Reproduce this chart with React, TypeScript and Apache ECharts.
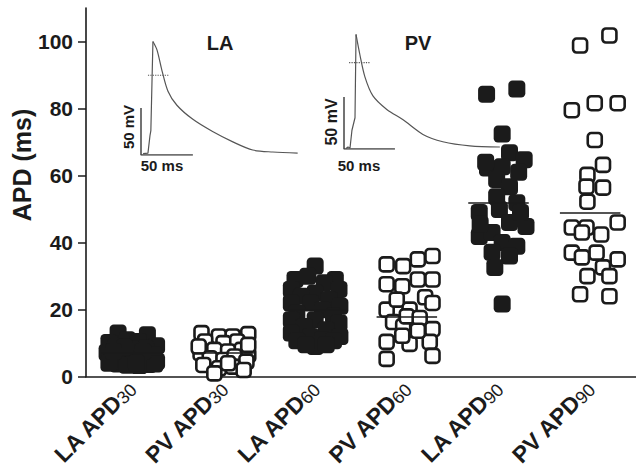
import React, { useEffect, useRef } from 'react';
import * as echarts from 'echarts';

const FONT = '"Liberation Sans", Arial, Helvetica, sans-serif';
const INK = '#1b1b1b';

// Category names (subscript digits split off in the label formatter)
const categories = ['LA APD30', 'PV APD30', 'LA APD60', 'PV APD60', 'LA APD90', 'PV APD90'];
const yTickValues = [0, 20, 40, 60, 80, 100];
const yMinorTickValues = [10, 30, 50, 70, 90, 110];

// Each point: [horizontal jitter within the category, APD in ms]
const la30 = [
  [-0.15, 13], [0.17, 12.5], [-0.25, 10.2], [0.27, 9.2], [-0.05, 11], [0.07, 10.5],
  [-0.18, 9], [0.15, 8.5], [-0.27, 7.2], [0.0, 8.2], [0.24, 6.5], [-0.1, 6.5],
  [0.1, 6], [-0.22, 5], [0.27, 4.5], [0.02, 5], [-0.15, 3.8], [0.18, 3.6],
  [-0.05, 3.4], [0.08, 3.3], [-0.25, 4], [0.25, 3.8], [-0.08, 8.8], [0.12, 7.5],
  [-0.2, 7.5], [0.05, 4],
];
const pv30 = [
  [-0.24, 13], [-0.05, 12], [0.1, 12], [0.27, 12.7], [-0.2, 10.5], [0.0, 10],
  [0.15, 10.5], [-0.25, 7], [-0.1, 8], [0.05, 7.5], [0.2, 8], [0.27, 6.5],
  [-0.15, 5.5], [0.0, 5], [0.12, 6], [0.25, 4.5], [-0.22, 3.5], [-0.05, 2.5],
  [0.1, 3], [0.22, 2], [-0.1, 1], [0.05, 4], [0.27, 9.5], [-0.27, 9],
];
const la60 = [
  [0.0, 33], [-0.22, 29], [0.22, 29], [-0.08, 30], [0.1, 28], [-0.26, 26],
  [0.26, 26], [0.0, 25], [-0.15, 24], [0.15, 23], [-0.26, 22], [0.27, 21],
  [-0.05, 22], [0.08, 20], [-0.2, 19], [0.2, 18], [-0.26, 17], [0.26, 16],
  [0.0, 17], [-0.12, 15], [0.12, 14], [-0.26, 13], [0.27, 12], [-0.05, 12],
  [0.08, 11], [-0.2, 10.7], [0.2, 10.7], [0.0, 9], [-0.1, 9.5], [0.12, 9.5],
];
const pv60 = [
  [-0.22, 33.5], [-0.04, 33], [0.12, 35], [0.28, 36], [-0.22, 27.6], [-0.05, 27],
  [0.12, 29], [0.28, 29], [0.2, 23.7], [0.28, 22], [-0.22, 20], [0.03, 20],
  [-0.15, 16.3], [-0.04, 15], [0.0, 18], [0.28, 14.2], [-0.22, 10.4], [0.03, 9.8],
  [0.25, 10.4], [0.28, 6.2], [-0.22, 5.3], [-0.11, 23], [0.14, 17.5], [0.12, 13.7],
  [-0.05, 12.2],
];
const la90 = [
  [-0.13, 84.3], [0.2, 85.8], [0.04, 72.4], [0.12, 66.8], [0.28, 64.7], [-0.12, 62.3],
  [0.04, 62.6], [-0.02, 58.8], [0.12, 56.7], [-0.02, 53.7], [0.2, 51.9], [-0.21, 49],
  [0.01, 49.9], [0.3, 44.8], [0.12, 46], [-0.21, 41.8], [-0.07, 43], [0.04, 40],
  [0.2, 38.9], [-0.07, 37.1], [0.12, 36], [-0.04, 32.6], [0.04, 21.7],
  [-0.14, 64], [0.22, 61], [-0.2, 45.5], [0.24, 49],
];
const pv90 = [
  [-0.11, 98.8], [0.21, 101.8], [-0.2, 79.5], [0.05, 81.6], [0.3, 81.6], [0.05, 70.6],
  [0.14, 63.2], [-0.03, 60.2], [-0.04, 56.7], [0.14, 56.4], [-0.03, 52.2], [-0.2, 44.5],
  [0.3, 46], [-0.04, 44.5], [-0.09, 43], [0.12, 42.4], [-0.2, 37], [-0.09, 35.6],
  [0.07, 37], [0.3, 35], [0.14, 32.6], [-0.03, 30], [0.21, 30], [-0.11, 24.6],
  [0.21, 24],
];
const groups = [la30, pv30, la60, pv60, la90, pv90];
const groupFilled = [true, false, true, false, true, false];
const groupMeans = [7, 7, 20, 18, 52, 49];
const meanHalfWidth = 0.33;

// Inset action-potential traces: [time ms, mV above rest]
const laUpstroke = [[2, 1.5], [6.7, 2], [8.7, 21], [9.5, 26], [11.5, 121]];
const laDecay = [
  [11.5, 121], [15.4, 112], [20.2, 90], [26, 68], [34.6, 53], [50, 38], [69, 25],
  [88.5, 14], [107.7, 5.3], [127, 3.2], [151, 2.1],
];
const laApdMarker = [[6.7, 85], [27, 85]];
const pvUpstroke = [[2, 0.5], [3.9, 2], [5.9, 1], [7.8, 18], [10.8, 30], [11.8, 110]];
const pvDecay = [
  [11.8, 110], [15.7, 90], [20.6, 69], [28.4, 51], [42, 38], [58, 28], [77.5, 14],
  [97, 7], [123.5, 3], [153, 1.9],
];
const pvApdMarker = [[5, 83], [25.5, 83]];
const scaleBar = [[0, 50], [0, 0], [50, 0]]; // 50 mV x 50 ms

export default function App() {
  const ref = useRef<HTMLDivElement>(null);

  useEffect(() => {
    if (!ref.current) return;
    const chart = echarts.init(ref.current, null, { renderer: 'svg' });

    const scatterSeries = groups.map((g, i) => {
      const c = i + 0.5;
      const filled = groupFilled[i];
      return {
        type: 'scatter',
        xAxisIndex: 1,
        yAxisIndex: 0,
        symbol: 'roundRect',
        symbolSize: filled ? 17 : 14,
        itemStyle: filled
          ? { color: INK, opacity: 1 }
          : { color: '#ffffff', borderColor: INK, borderWidth: 2.6, opacity: 1 },
        data: g.map(([j, v]) => [c + j, v]),
        markLine: {
          silent: true,
          symbol: 'none',
          label: { show: false },
          lineStyle: { color: INK, width: 1.6, type: 'solid' },
          data: [[{ coord: [c - meanHalfWidth, groupMeans[i]] }, { coord: [c + meanHalfWidth, groupMeans[i]] }]],
        },
        z: 3,
      };
    });

    const traceLine = (data: number[][], xi: number, yi: number, extra: any = {}) => ({
      type: 'line',
      xAxisIndex: xi,
      yAxisIndex: yi,
      data,
      symbol: 'none',
      silent: true,
      lineStyle: { color: '#555', width: 1.2 },
      z: 2,
      ...extra,
    });

    const option: any = {
      animation: false,
      grid: [
        { left: 86, right: 0, top: 8, bottom: 92 },
        { left: 141, top: 33, width: 166, height: 122 },
        { left: 344, top: 24, width: 163, height: 125 },
      ],
      xAxis: [
        {
          type: 'category',
          gridIndex: 0,
          data: categories,
          boundaryGap: true,
          axisLine: { lineStyle: { color: INK, width: 1.6 } },
          axisTick: { alignWithLabel: true, length: 6, lineStyle: { color: INK, width: 1.5 } },
          splitLine: { show: false },
          axisLabel: {
            interval: 0,
            rotate: 45,
            margin: 8,
            formatter: (v: string) => {
              const m = v.match(/^(.*?)(\d+)$/);
              return m ? `{b|${m[1]}}{s|${m[2]}}` : `{b|${v}}`;
            },
            rich: {
              b: { fontFamily: FONT, fontWeight: 'bold', fontSize: 23, color: INK },
              s: { fontFamily: FONT, fontWeight: 'normal', fontSize: 18, color: INK, padding: [6, 0, 0, 0] },
            },
          },
        },
        { type: 'value', gridIndex: 0, min: 0, max: 6, show: false },
        { type: 'value', gridIndex: 1, min: 0, max: 160, show: false },
        { type: 'value', gridIndex: 2, min: 0, max: 160, show: false },
      ],
      yAxis: [
        {
          type: 'value',
          gridIndex: 0,
          min: 0,
          max: 110,
          splitLine: { show: false },
          axisLine: { show: true, lineStyle: { color: INK, width: 1.6 } },
          axisTick: { show: true, length: 8, customValues: yTickValues, lineStyle: { color: INK, width: 1.5 } },
          axisLabel: {
            customValues: yTickValues,
            margin: 13,
            fontFamily: FONT,
            fontWeight: 'bold',
            fontSize: 21,
            color: INK,
          },
        },
        {
          type: 'value',
          gridIndex: 0,
          min: 0,
          max: 110,
          splitLine: { show: false },
          axisLine: { show: false },
          axisLabel: { show: false },
          axisTick: { show: true, length: 4, customValues: yMinorTickValues, lineStyle: { color: INK, width: 1.5 } },
        },
        { type: 'value', gridIndex: 1, min: 0, max: 130, show: false },
        { type: 'value', gridIndex: 2, min: 0, max: 120, show: false },
      ],
      series: [
        traceLine(scaleBar, 2, 2, { lineStyle: { color: '#444', width: 1.5 } }),
        traceLine(laUpstroke, 2, 2),
        traceLine(laDecay, 2, 2, { smooth: 0.3 }),
        traceLine(laApdMarker, 2, 2, { lineStyle: { color: '#555', width: 1.2, type: 'dotted' } }),
        traceLine(scaleBar, 3, 3, { lineStyle: { color: '#444', width: 1.5 } }),
        traceLine(pvUpstroke, 3, 3),
        traceLine(pvDecay, 3, 3, { smooth: 0.3 }),
        traceLine(pvApdMarker, 3, 3, { lineStyle: { color: '#555', width: 1.2, type: 'dotted' } }),
        ...scatterSeries,
      ],
      graphic: [
        {
          type: 'text',
          x: 22,
          y: 165,
          rotation: Math.PI / 2,
          style: { text: 'APD (ms)', font: `bold 25px ${FONT}`, fill: INK, align: 'center', verticalAlign: 'middle' },
        },
        { type: 'text', x: 220, y: 43, style: { text: 'LA', font: `bold 20px ${FONT}`, fill: INK, align: 'center', verticalAlign: 'middle' } },
        { type: 'text', x: 418, y: 43, style: { text: 'PV', font: `bold 20px ${FONT}`, fill: INK, align: 'center', verticalAlign: 'middle' } },
        {
          type: 'text', x: 128, y: 127, rotation: Math.PI / 2,
          style: { text: '50 mV', font: `bold 15px ${FONT}`, fill: INK, align: 'center', verticalAlign: 'middle' },
        },
        {
          type: 'text', x: 331, y: 122, rotation: Math.PI / 2,
          style: { text: '50 mV', font: `bold 16px ${FONT}`, fill: INK, align: 'center', verticalAlign: 'middle' },
        },
        { type: 'text', x: 162, y: 165, style: { text: '50 ms', font: `bold 15px ${FONT}`, fill: INK, align: 'center', verticalAlign: 'middle' } },
        { type: 'text', x: 359, y: 165, style: { text: '50 ms', font: `bold 15px ${FONT}`, fill: INK, align: 'center', verticalAlign: 'middle' } },
      ],
    };

    chart.setOption(option);
    return () => chart.dispose();
  }, []);

  return (
    <div
      ref={ref}
      style={{ position: 'fixed', left: 0, top: 0, width: 636, height: 470, background: '#ffffff' }}
    />
  );
}
